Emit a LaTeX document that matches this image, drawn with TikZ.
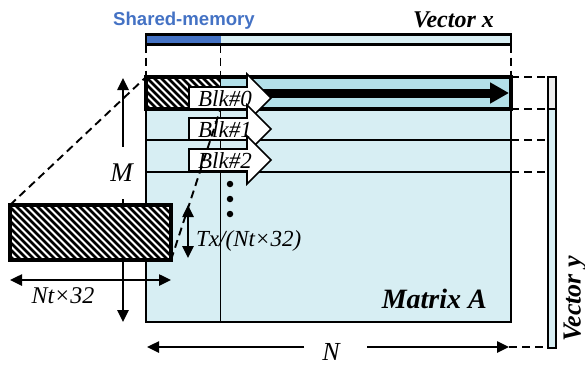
\documentclass[tikz,border=0pt]{standalone}
\usepackage{fontspec}
\setmainfont{Liberation Serif}
\newfontfamily\gothicfont{Liberation Sans}
\usetikzlibrary{arrows.meta}
\definecolor{lightA}{HTML}{D7EEF3}
\definecolor{rowA}{HTML}{B3E0E9}
\definecolor{shblue}{HTML}{4472C4}
\definecolor{vygray}{HTML}{ECECEC}
\tikzset{
  border/.style={draw=black, line width=3.4pt},
  medborder/.style={draw=black, line width=2.8pt},
  thinline/.style={draw=black, line width=1.9pt},
  dashline/.style={draw=black, line width=1.9pt, dash pattern=on 8pt off 5pt},
  hatchline/.style={line width=2.6pt},
  dimtip/.style={line width=2.5pt, -{Triangle[length=12pt,width=11pt]}},
  dimboth/.style={line width=2.5pt, {Triangle[length=12pt,width=11pt]}-{Triangle[length=12pt,width=11pt]}},
  blkarrow/.style={draw=black, fill=white, line width=1.6pt, line join=miter},
  blklab/.style={inner sep=0pt, font=\fontsize{23}{25}\selectfont\itshape},
  lab/.style={inner sep=0pt, font=\fontsize{24}{26}\selectfont\itshape},
  biglab/.style={inner sep=0pt, font=\fontsize{27}{29}\selectfont\itshape},
  boldlab/.style={inner sep=0pt, font=\fontsize{24}{26}\selectfont\bfseries\itshape},
  dotmark/.style={fill=black, circle, inner sep=0pt, minimum size=6.5pt},
}
\begin{document}
\begin{tikzpicture}[x=1pt,y=-1pt]
\useasboundingbox (0,0) rectangle (585,365);

% ---- Vector x ----
\node[inner sep=0pt, anchor=base, text=shblue, font=\gothicfont\bfseries\fontsize{18.6}{20}\selectfont] (shm) at (184,25) {Shared-memory};
\node[boldlab, anchor=base west] (vx) at (413,27) {Vector x};
\fill[lightA] (146,34.5) rectangle (511,44.5);
\fill[shblue] (146,34.5) rectangle (220.5,44.5);
\draw[medborder] (146,34.5) rectangle (511,44.5);
\coordinate (x0) at (146,44.5);
\coordinate (x1) at (220.5,44.5);
\coordinate (x2) at (511,44.5);
\coordinate (m0) at (146,77);
\coordinate (m1) at (220.5,77);
\coordinate (m2) at (511,77);
\draw[dashline] (x0) -- (m0);
\draw[dashline] (x1) -- (m1);
\draw[dashline] (x2) -- (m2);

% ---- Matrix A ----
\fill[lightA] (146,77) rectangle (511,322);
\fill[rowA] (146,77) rectangle (511,109);
\fill[white] (146,77) rectangle (220.5,109);
\begin{scope}
  \clip (146,77) rectangle (220.5,109);
  \foreach \hx in {111,118,...,225}{
    \draw[hatchline] (\hx,77) -- ++(32,32);
  }
\end{scope}
\draw[thinline] (146,140) -- (511,140);
\draw[thinline] (146,172) -- (511,172);
\draw[thinline] (220.5,77) -- (220.5,322);
\draw[medborder] (146,77) rectangle (511,322);
\draw[border] (146,77) rectangle (511,109);
\coordinate (hbr) at (220.5,109);
\node[boldlab, font=\fontsize{28}{30}\selectfont\bfseries\itshape, anchor=base east] (matA) at (487,308) {Matrix A};

% big arrow in first row
\coordinate (ba0) at (255,93);
\coordinate (ba1) at (509,93);
\draw[line width=9pt, -{Triangle[length=19pt,width=20pt]}] (ba0) -- (ba1);

% block arrows
\foreach \cy/\k in {98/0,129/1,160/2}{
  \draw[blkarrow] (189,\cy-11) -- (247,\cy-11) -- (247,\cy-24) -- (271,\cy) -- (247,\cy+24) -- (247,\cy+11) -- (189,\cy+11) -- cycle;
  \node[blklab] (blk\k) at (225,\cy+1) {Blk\#\k};
}

% dots
\node[dotmark] (d1) at (230,184) {};
\node[dotmark] (d2) at (230,199) {};
\node[dotmark] (d3) at (230,214) {};

% ---- Vector y ----
\fill[lightA] (548,77) rectangle (556,348);
\fill[vygray] (548,77) rectangle (556,109);
\draw[line width=2.4pt] (548,77) rectangle (556,348);
\draw[line width=1.4pt] (548,109) -- (556,109);
\node[boldlab, font=\fontsize{26}{28}\selectfont\bfseries\itshape, rotate=90] (vy) at (575,299) {Vector y};
\foreach \yy/\n in {77/a,109/b,140/c,172/d}{
  \coordinate (ml\n) at (511,\yy);
  \coordinate (vy\n) at (547,\yy);
  \draw[dashline] (ml\n) -- (vy\n);
}

% ---- M dimension ----
\coordinate (Mtop) at (123,78);
\coordinate (Mbot) at (123,322);
\draw[dimboth] (Mbot) -- (Mtop);
\node[biglab, fill=white, minimum height=52pt, minimum width=26pt] (Mlab) at (121.5,173) {M};

% ---- hatched block ----
\fill[white] (10,205) rectangle (171,260);
\begin{scope}
  \clip (10,205) rectangle (171,260);
  \foreach \hx in {-48,-41,...,175}{
    \draw[hatchline] (\hx,205) -- ++(55,55);
  }
\end{scope}
\draw[border] (10,205) rectangle (171,260);
\coordinate (btl) at (10,205);
\coordinate (bbr) at (171,260);

% dashed projection lines
\draw[dashline] (btl) -- (m0);
\draw[dashline] (bbr) -- (hbr);

% Nt x 32
\coordinate (nl) at (10,280);
\coordinate (nr) at (171,280);
\draw[dimboth] (nl) -- (nr);
\node[lab] (ntlab) at (63,296) {Nt×32};

% Tx/(Nt x 32)
\coordinate (tt) at (188,205);
\coordinate (tb) at (188,258);
\draw[dimboth] (tt) -- (tb);
\node[lab, font=\fontsize{23}{25}\selectfont\itshape, anchor=west] (txlab) at (196,241) {Tx/(Nt×32)};

% N dimension
\node[biglab, font=\fontsize{26}{28}\selectfont\itshape] (Nlab) at (331,352) {N};
\coordinate (Nl0) at (304,347);
\coordinate (Nl1) at (147,347);
\coordinate (Nr0) at (367,347);
\coordinate (Nr1) at (509,347);
\draw[dimtip] (Nl0) -- (Nl1);
\draw[dimtip] (Nr0) -- (Nr1);
\coordinate (vyb) at (547,347);
\draw[dashline] (Nr1) -- (vyb);
\end{tikzpicture}
\end{document}
